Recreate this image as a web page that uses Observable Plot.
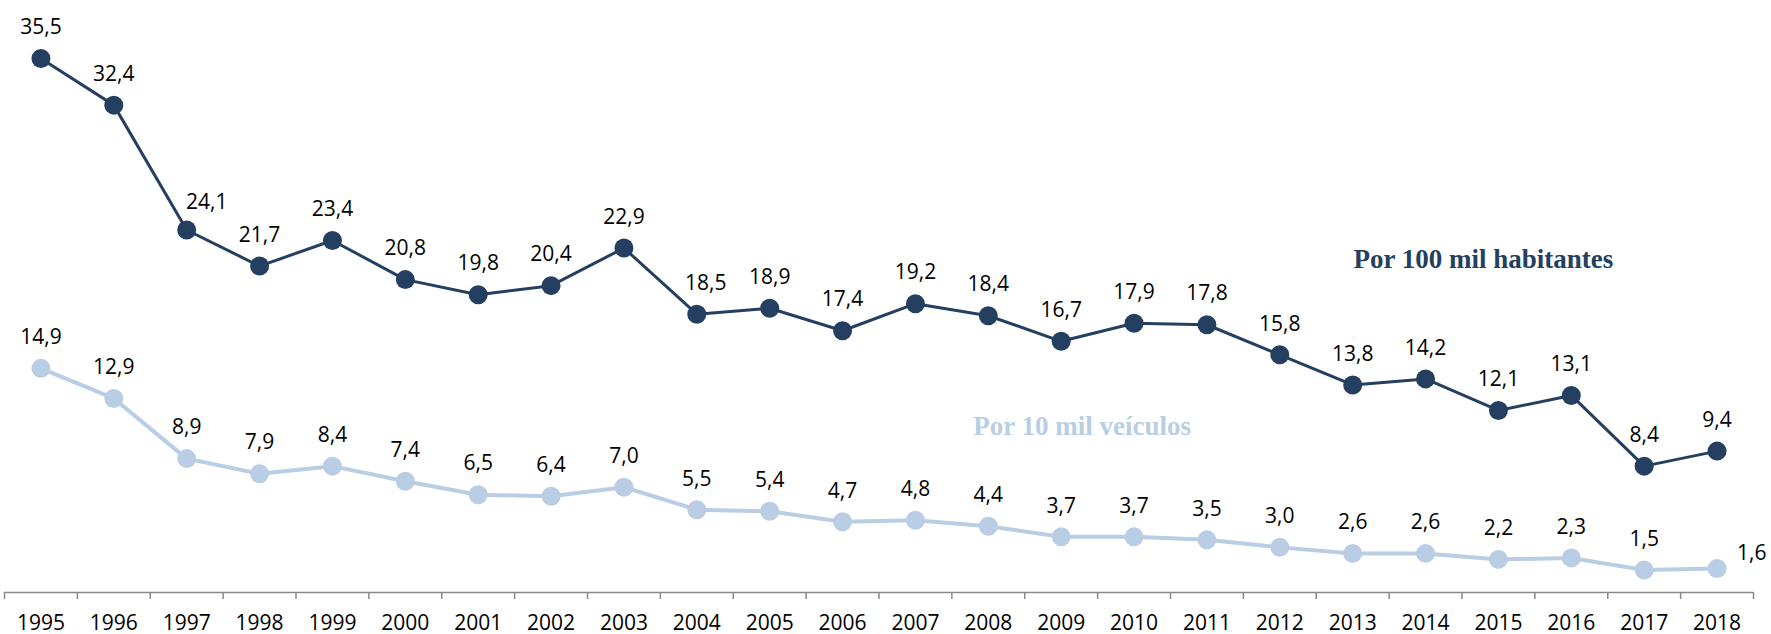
<!DOCTYPE html>
<html>
<head>
<meta charset="utf-8">
<script src="https://cdn.jsdelivr.net/npm/d3@7"></script>
<script src="https://cdn.jsdelivr.net/npm/@observablehq/plot@0.6"></script>
<style>
  html, body { margin: 0; padding: 0; background: #fff; }
</style>
</head>
<body>
<div id="chart"></div>
<script>
const years = [1995,1996,1997,1998,1999,2000,2001,2002,2003,2004,2005,2006,2007,2008,2009,2010,2011,2012,2013,2014,2015,2016,2017,2018];
const porHabitantes = [35.5,32.4,24.1,21.7,23.4,20.8,19.8,20.4,22.9,18.5,18.9,17.4,19.2,18.4,16.7,17.9,17.8,15.8,13.8,14.2,12.1,13.1,8.4,9.4];
const porVeiculos = [14.9,12.9,8.9,7.9,8.4,7.4,6.5,6.4,7.0,5.5,5.4,4.7,4.8,4.4,3.7,3.7,3.5,3.0,2.6,2.6,2.2,2.3,1.5,1.6];
const seriesNames = ["Por 100 mil habitantes", "Por 10 mil veículos"];

const dark = "#243f60";
const light = "#b9cde5";

const rowsH = years.map((year, i) => ({year, value: porHabitantes[i], series: seriesNames[0]}));
const rowsV = years.map((year, i) => ({year, value: porVeiculos[i], series: seriesNames[1]}));
const fmt = d => d.value.toFixed(1).replace(".", ",");
const boundaries = [...years.map(y => y - 0.5), years[years.length - 1] + 0.5];

const shiftedH = new Set([1997, 2004]);
const lastYear = years[years.length - 1];
const fs = 21;

const plot = Plot.plot({
  width: 1771,
  height: 634,
  marginLeft: 4,
  marginRight: 18,
  marginTop: 58,
  marginBottom: 42,
  style: {fontFamily: "'Open Sans', sans-serif", fontSize: fs + "px", background: "#fff", overflow: "visible"},
  x: {type: "linear", domain: [years[0] - 0.5, lastYear + 0.5], label: null},
  y: {domain: [0, 35.5], axis: null, label: null},
  marks: [
    Plot.ruleY([0], {stroke: "#8a8a8a", strokeWidth: 1.5}),
    Plot.axisX({ticks: boundaries, tickFormat: () => "", tickSize: 7, stroke: "#8a8a8a", strokeWidth: 1.5, label: null}),
    Plot.axisX({ticks: years, tickFormat: d => String(d), tickSize: 0, tickPadding: 23, fontSize: fs, fill: "#000", label: null}),
    Plot.line(rowsV, {x: "year", y: "value", stroke: light, strokeWidth: 4}),
    Plot.dot(rowsV, {x: "year", y: "value", fill: light, r: 9.5}),
    Plot.line(rowsH, {x: "year", y: "value", stroke: dark, strokeWidth: 3}),
    Plot.dot(rowsH, {x: "year", y: "value", fill: dark, r: 9.5}),
    Plot.text(rowsH.filter(d => !shiftedH.has(d.year)), {x: "year", y: "value", text: fmt, dy: -31, fill: "#000", fontSize: fs}),
    Plot.text(rowsH.filter(d => d.year === 1997), {x: "year", y: "value", text: fmt, dy: -28, dx: 20, fill: "#000", fontSize: fs}),
    Plot.text(rowsH.filter(d => d.year === 2004), {x: "year", y: "value", text: fmt, dy: -31, dx: 9, fill: "#000", fontSize: fs}),
    Plot.text(rowsV.filter(d => d.year !== lastYear), {x: "year", y: "value", text: fmt, dy: -31, fill: "#000", fontSize: fs}),
    Plot.text(rowsV.filter(d => d.year === lastYear), {x: "year", y: "value", text: fmt, dy: -15, dx: 20, textAnchor: "start", fill: "#000", fontSize: fs}),
    Plot.text(rowsH.filter(d => d.year === 2015), {x: "year", y: "value", text: () => seriesNames[0], dx: -15, dy: -151, fill: dark, fontFamily: "'Liberation Serif', serif", fontWeight: "bold", fontSize: 27}),
    Plot.text(rowsV.filter(d => d.year === 2009), {x: "year", y: "value", text: () => seriesNames[1], dx: 21, dy: -110, fill: light, fontFamily: "'Liberation Serif', serif", fontWeight: "bold", fontSize: 27})
  ]
});
document.getElementById("chart").appendChild(plot);
</script>
</body>
</html>
